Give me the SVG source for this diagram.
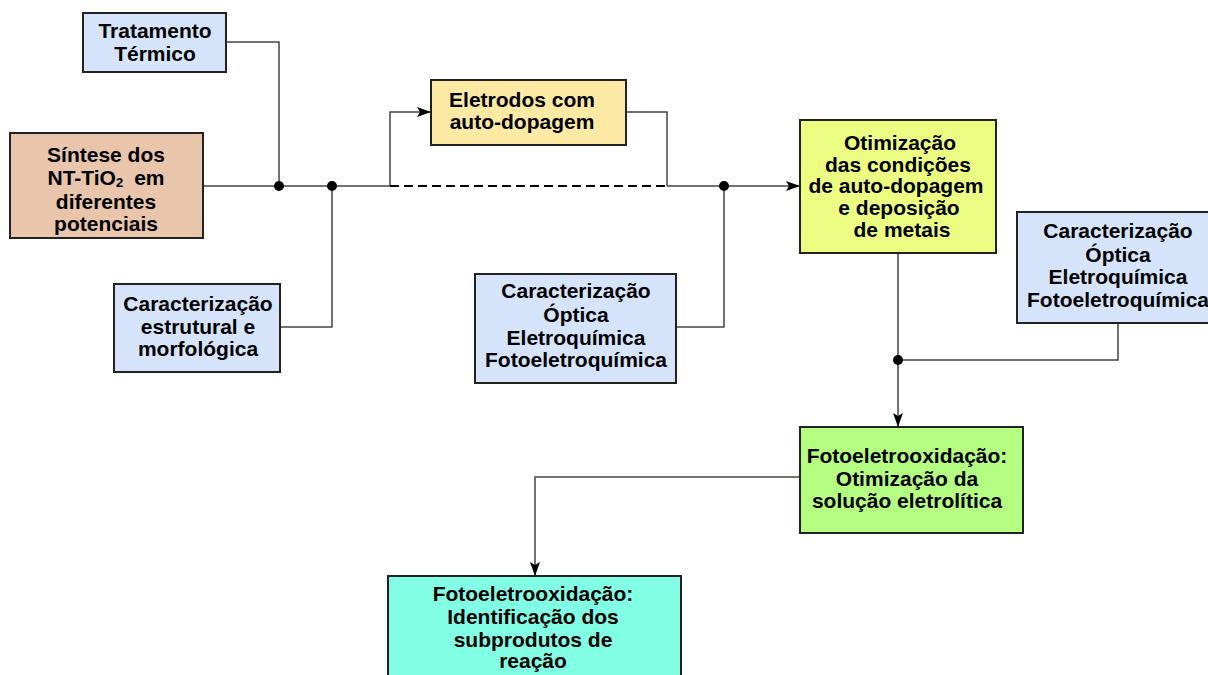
<svg xmlns="http://www.w3.org/2000/svg" width="1208" height="675" viewBox="0 0 1208 675">
<defs>
<marker id="arr" viewBox="0 0 14 10" refX="14" refY="5" markerWidth="14" markerHeight="10" markerUnits="userSpaceOnUse" orient="auto">
<path d="M0,0 L14,5 L0,10 L3,5 Z" fill="#000"/>
</marker>
</defs>
<style>
.box{stroke:#222;stroke-width:2}
.blue{fill:#d6e4fb}
.t{font-family:"Liberation Sans",Arial,sans-serif;font-weight:bold;font-size:21px;fill:#000;text-anchor:middle}
.c{fill:none;stroke:#444;stroke-width:1.5}
.dash{fill:none;stroke:#000;stroke-width:2;stroke-dasharray:9 5}
.dot{fill:#000}
</style>
<rect width="1208" height="675" fill="#fff"/>
<g id="connectors">
<polyline class="c" points="226,42 279,42 279,186"/>
<line class="c" x1="203" y1="186" x2="390" y2="186"/>
<polyline class="c" points="332,186 332,327 280,327"/>
<polyline class="c" points="390,186 390,112 431,112" marker-end="url(#arr)"/>
<line class="dash" x1="390" y1="186" x2="667" y2="186"/>
<polyline class="c" points="626,112 667,112 667,186"/>
<line class="c" x1="667" y1="186" x2="800" y2="186" marker-end="url(#arr)"/>
<polyline class="c" points="676,327 724,327 724,186"/>
<line class="c" x1="898" y1="253" x2="898" y2="427" marker-end="url(#arr)"/>
<polyline class="c" points="898,360 1118,360 1118,323"/>
<polyline class="c" points="800,477 535,477 535,576" marker-end="url(#arr)"/>
<circle class="dot" cx="279" cy="186" r="5"/>
<circle class="dot" cx="332" cy="186" r="5"/>
<circle class="dot" cx="724" cy="186" r="5"/>
<circle class="dot" cx="898" cy="360" r="5"/>
</g>
<g id="tratamento">
<rect class="box blue" x="83" y="13" width="143" height="59"/>
<text class="t" x="155" y="38">Tratamento</text>
<text class="t" x="155" y="61">Térmico</text>
</g>
<g id="sintese">
<rect class="box" fill="#e8c5ab" x="10" y="133" width="193" height="105"/>
<text class="t" x="106" y="162">Síntese dos</text>
<text class="t" x="106" y="185">NT-TiO<tspan font-size="13" dy="2">2</tspan><tspan dx="11" dy="-2">em</tspan></text>
<text class="t" x="106" y="209">diferentes</text>
<text class="t" x="106" y="231">potenciais</text>
</g>
<g id="estrutural">
<rect class="box blue" x="114" y="284" width="166" height="88"/>
<text class="t" x="198" y="311">Caracterização</text>
<text class="t" x="198" y="334">estrutural e</text>
<text class="t" x="198" y="356">morfológica</text>
</g>
<g id="eletrodos">
<rect class="box" fill="#fce9a4" x="431" y="80" width="195" height="65"/>
<text class="t" x="522" y="107">Eletrodos com</text>
<text class="t" x="522" y="129">auto-dopagem</text>
</g>
<g id="caract-meio">
<rect class="box blue" x="475" y="274" width="201" height="109"/>
<text class="t" x="576" y="298">Caracterização</text>
<text class="t" x="576" y="322">Óptica</text>
<text class="t" x="576" y="345">Eletroquímica</text>
<text class="t" x="576" y="367">Fotoeletroquímica</text>
</g>
<g id="otimizacao">
<rect class="box" fill="#ecfe82" x="800" y="120" width="196" height="133"/>
<text class="t" x="900" y="150">Otimização</text>
<text class="t" x="898" y="172">das condições</text>
<text class="t" x="896" y="193">de auto-dopagem</text>
<text class="t" x="899" y="215">e deposição</text>
<text class="t" x="902" y="237">de metais</text>
</g>
<g id="caract-direita">
<rect class="box blue" x="1017" y="212" width="203" height="111"/>
<text class="t" x="1118" y="238">Caracterização</text>
<text class="t" x="1118" y="262">Óptica</text>
<text class="t" x="1118" y="284">Eletroquímica</text>
<text class="t" x="1118" y="307">Fotoeletroquímica</text>
</g>
<g id="fotoeletro-otim">
<rect class="box" fill="#b4fe82" x="800" y="427" width="223" height="106"/>
<text class="t" x="907" y="463">Fotoeletrooxidação:</text>
<text class="t" x="907" y="486">Otimização da</text>
<text class="t" x="907" y="508">solução eletrolítica</text>
</g>
<g id="fotoeletro-ident">
<rect class="box" fill="#82fee4" x="388" y="576" width="293" height="110"/>
<text class="t" x="533" y="601">Fotoeletrooxidação:</text>
<text class="t" x="533" y="624">Identificação dos</text>
<text class="t" x="533" y="647">subprodutos de</text>
<text class="t" x="533" y="668">reação</text>
</g>
</svg>
